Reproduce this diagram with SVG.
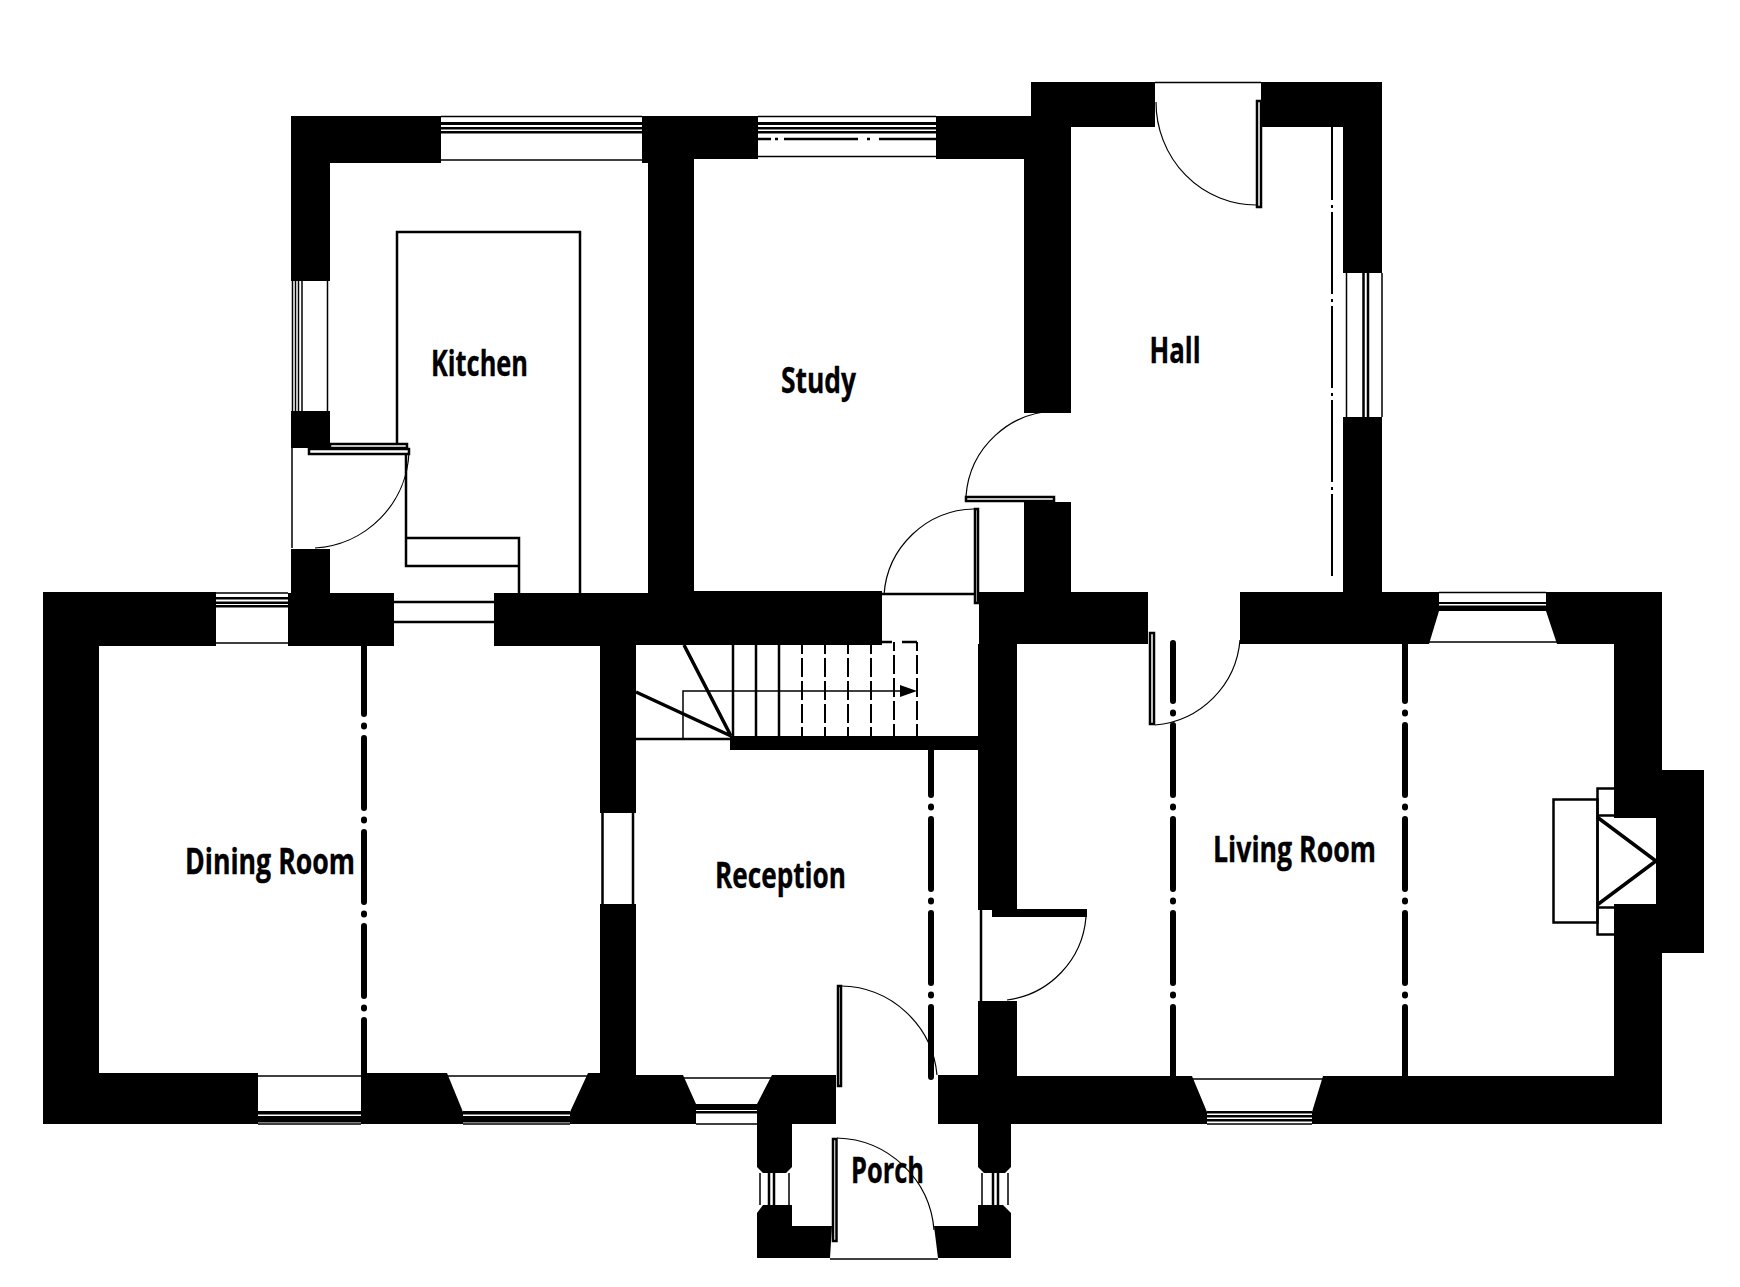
<svg xmlns="http://www.w3.org/2000/svg" width="1740" height="1287" viewBox="0 0 1740 1287">
<style>
.w{fill:#000;stroke:none}
.t{fill:none;stroke:#000;stroke-width:1.5}
.m{fill:none;stroke:#000;stroke-width:2.5}
.k{fill:none;stroke:#000;stroke-width:3.5}
.a{fill:none;stroke:#000;stroke-width:1.2}
.leaf{fill:#fff;stroke:#000;stroke-width:2.5}
.dd{fill:none;stroke:#000;stroke-width:6;stroke-linecap:round;stroke-dasharray:70 11.5 1 11.5}
.hd{fill:none;stroke:#000;stroke-width:2;stroke-dasharray:73 5 3 4 82 5 3 4 82 5 3 4 82 5 3 4 82}
.td{fill:none;stroke:#000;stroke-width:2;stroke-dasharray:19 4;stroke-dashoffset:10}
.l{font-family:"Open Sans","Liberation Sans",sans-serif;font-weight:700;font-size:35px;fill:#000;stroke:#000;stroke-width:.35}
</style>
<rect width="1740" height="1287" fill="#fff"/>

<g id="partition-lines">
<path class="dd" d="M364 644V1074"/>
<path class="dd" d="M931 750V1079" style="stroke-dashoffset:25"/>
<path class="dd" d="M1173 643V1077" style="stroke-dashoffset:12"/>
<path class="dd" d="M1405 631V1077"/>
<path class="hd" d="M1332 127V592"/>
</g>

<g id="windows">
<path class="t" d="M441 116.5H642M441 160H642"/>
<rect class="w" x="441" y="122" width="201" height="3"/><rect class="w" x="441" y="127" width="201" height="2.5"/><rect class="w" x="441" y="131" width="201" height="2.5"/>
<path class="t" d="M758 116.5H936M758 156.5H936"/>
<rect class="w" x="758" y="122" width="178" height="3"/><rect class="w" x="758" y="127" width="178" height="2.5"/><rect class="w" x="758" y="131" width="178" height="2.5"/>
<path d="M758 139H771M775 139H778M784 139H858M867 139H870M879 139H936" fill="none" stroke="#000" stroke-width="2.5"/>
<path class="t" d="M292.5 281V411M295.5 281V411M298.5 281V411M302 281V411M327.5 281V411"/>
<path class="t" d="M1346.5 273V417M1382 273V417"/>
<path class="m" d="M1363.5 273V417M1368 273V417"/>
<path class="t" d="M216 593H288M216 643H288"/>
<rect class="w" x="216" y="597" width="72" height="2.5"/><rect class="w" x="216" y="601.5" width="72" height="2.5"/><rect class="w" x="216" y="605" width="72" height="2.5"/>
<path class="m" d="M394 602H494M394 622H494"/>
<path class="t" d="M258 1076H361M258 1124H361"/>
<rect class="w" x="258" y="1111" width="103" height="3.5"/><rect class="w" x="258" y="1116" width="103" height="6.5"/>
<path class="t" d="M447 1076H588M463 1124H570"/>
<rect class="w" x="463" y="1111" width="107" height="3.5"/><rect class="w" x="463" y="1116" width="107" height="6.5"/>
<path class="m" d="M602.5 813V904M633 813V904"/>
<path class="t" d="M683 1078H772M696 1124H757"/>
<rect class="w" x="696" y="1104" width="61" height="6"/><rect class="w" x="696" y="1111" width="61" height="2.5"/>
<path class="t" d="M1192 1079H1323M1207 1124H1312"/>
<rect class="w" x="1207" y="1111" width="105" height="2.5"/><rect class="w" x="1207" y="1115" width="105" height="2.5"/><rect class="w" x="1207" y="1119" width="105" height="2.5"/>
<path class="t" d="M1439 592.5H1546M1429 642H1557"/>
<rect class="w" x="1439" y="602" width="107" height="2"/><rect class="w" x="1439" y="605.5" width="107" height="5.5"/>
<path class="t" d="M760 1173V1205M789 1173V1205M982 1173V1205M1008 1173V1205"/>
<path class="m" d="M769 1173V1205M774 1173V1205M993 1173V1205M998 1173V1205"/>
</g>

<g id="walls">
<polygon class="w" points="291,116 441,116 441,163 330,163 330,281 291,281"/>
<rect class="w" x="291" y="411" width="39" height="37"/>
<rect class="w" x="291" y="549" width="39" height="48"/>
<polygon class="w" points="642,116 758,116 758,159 694,159 694,593 648,593 648,163 642,163"/>
<polygon class="w" points="936,116 1031,116 1031,82 1155,82 1155,127 1071,127 1071,413 1024,413 1024,159 936,159"/>
<polygon class="w" points="1261,82 1382,82 1382,273 1343,273 1343,127 1261,127"/>
<rect class="w" x="1343" y="417" width="39" height="176"/>
<rect class="w" x="1024" y="502" width="47" height="92"/>
<polygon class="w" points="43,592 216,592 216,646 99,646 99,1073 258,1073 258,1124 43,1124"/>
<rect class="w" x="288" y="593" width="106" height="53"/>
<polygon class="w" points="494,593 648,593 694,591 882,591 882,645 636,645 636,813 600,813 600,646 494,646"/>
<polygon class="w" points="979,592 1148,592 1148,644 1017,644 1017,910 978,910 978,644 979,644"/>
<rect class="w" x="730" y="736" width="249" height="14"/>
<polygon class="w" points="1240,592 1439,592 1439,611 1429,644 1240,644"/>
<polygon class="w" points="1546,592 1662,592 1662,770 1704,770 1704,953 1662,953 1662,1124 1312,1124 1312,1112 1323,1076 1614,1076 1614,644 1557,644 1546,611"/>
<rect x="1597" y="818" width="59" height="86" fill="#fff"/>
<polygon class="w" points="361,1073 447,1073 463,1112 463,1124 361,1124"/>
<polygon class="w" points="588,1073 600,1073 600,904 636,904 636,1075 683,1075 696,1104 696,1124 570,1124 570,1112"/>
<polygon class="w" points="772,1075 836,1075 836,1124 792,1124 792,1167 786,1173 763,1173 757,1167 757,1104"/>
<polygon class="w" points="938,1075 978,1075 978,1001 1017,1001 1017,1076 1192,1076 1207,1112 1207,1124 1011,1124 1011,1167 1005,1173 984,1173 978,1167 978,1124 938,1124"/>
<polygon class="w" points="763,1205 792,1205 792,1226 832,1226 830,1258 757,1258 757,1213"/>
<polygon class="w" points="978,1205 1003,1205 1011,1213 1011,1258 938,1258 934,1226 978,1226"/>
</g>

<g id="kitchen-fittings">
<path class="m" d="M397 443V232H580V593"/>
<path class="m" d="M406 455V566H519M406 538H519V593"/>
</g>

<g id="doors">
<path class="t" d="M292 448V548"/>
<rect class="leaf" x="330" y="444" width="77" height="4"/>
<rect class="leaf" x="309" y="449" width="100" height="5"/>
<path class="a" d="M409 452A100 100 0 0 1 315 548"/>
<path class="t" d="M1155 82.5H1261"/>
<rect class="leaf" x="1257" y="101" width="4" height="106"/>
<path class="a" d="M1156 102A100 103 0 0 0 1257 205"/>
<rect class="leaf" x="966" y="497" width="88" height="4"/>
<path class="a" d="M966 496A92 92 0 0 1 1058 411"/>
<path class="m" d="M882 594H975"/>
<rect class="leaf" x="975" y="509" width="3" height="94"/>
<path class="a" d="M974 509A92 92 0 0 0 884 595"/>
<rect class="leaf" x="1150" y="633" width="4" height="91"/>
<path class="a" d="M1155 725A93 93 0 0 0 1240 640"/>
<path class="m" d="M981 910V1001"/>
<rect class="w" x="992" y="909" width="95" height="8"/>
<path class="a" d="M1086 917A91 91 0 0 1 1007 1000"/>
<rect class="leaf" x="838" y="986" width="3" height="100"/>
<path class="a" d="M841 986A98 98 0 0 1 937 1075"/>
<rect class="leaf" x="833" y="1139" width="3.5" height="102"/>
<path class="a" d="M837 1138A100 100 0 0 1 934 1230"/>
<path class="t" d="M830 1259H938"/>
</g>

<g id="stairs">
<path class="m" d="M636 739H731"/>
<path class="k" d="M636 692L731 736M684 645L731 736"/>
<path class="t" d="M683 739V691H900"/>
<path class="m" d="M733 645V736M756 645V736M779 645V736"/>
<path class="td" d="M802 645V736M825 645V736M848 645V736M871 645V736M894 642V736M917 642V736"/>
<path class="m" d="M882 642H892M902 642H917"/>
<polygon class="w" points="900,685 917,691 900,697"/>
</g>

<g id="fireplace">
<path class="m" d="M1614 788.5H1597.5V934.5H1614M1597.5 815.5H1614M1597.5 907.5H1614"/>
<rect class="m" x="1553.5" y="799.5" width="44" height="123"/>
<path class="k" d="M1597 817L1656 861L1597 905"/>
</g>

<g id="labels">
<text class="l" x="431" y="376" textLength="97" lengthAdjust="spacingAndGlyphs">Kitchen</text>
<text class="l" x="781" y="393" textLength="75" lengthAdjust="spacingAndGlyphs">Study</text>
<text class="l" x="1149.5" y="363" textLength="51" lengthAdjust="spacingAndGlyphs">Hall</text>
<text class="l" x="185" y="874" textLength="170" lengthAdjust="spacingAndGlyphs">Dining Room</text>
<text class="l" x="715" y="888" textLength="131" lengthAdjust="spacingAndGlyphs">Reception</text>
<text class="l" x="1213" y="862" textLength="163" lengthAdjust="spacingAndGlyphs">Living Room</text>
<text class="l" x="851" y="1183" textLength="73" lengthAdjust="spacingAndGlyphs">Porch</text>
</g>
</svg>
